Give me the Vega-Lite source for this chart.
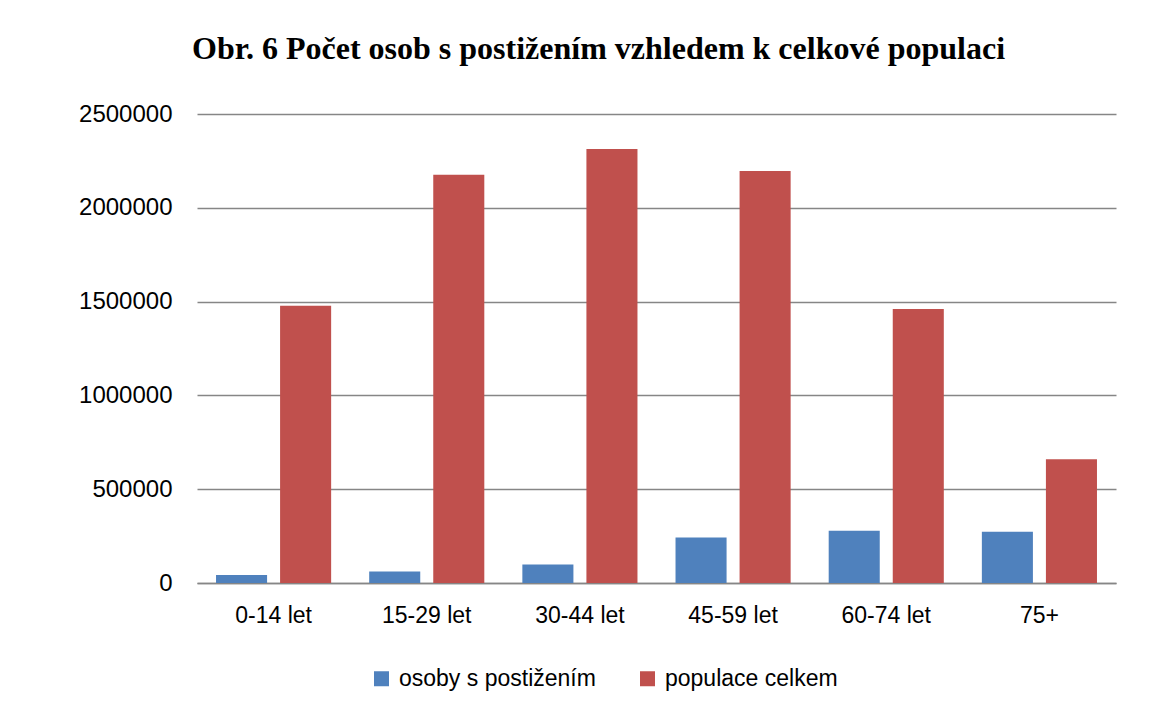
{
  "$schema": "https://vega.github.io/schema/vega-lite/v6.json",
  "autosize": {"type": "none"},
  "padding": {"left": 197, "top": 114, "right": 59, "bottom": 127},
  "width": 919,
  "height": 469,
  "background": "white",
  "title": {
    "text": "Obr. 6 Počet osob s postižením vzhledem k celkové populaci",
    "anchor": "start",
    "frame": "group",
    "dx": -5,
    "offset": 36,
    "font": "Liberation Serif",
    "fontSize": 32,
    "fontWeight": "bold",
    "color": "#000000"
  },
  "data": {
    "values": [
      {"vek": "0-14 let", "skupina": "osoby s postižením", "pocet": 43000},
      {"vek": "0-14 let", "skupina": "populace celkem", "pocet": 1478000},
      {"vek": "15-29 let", "skupina": "osoby s postižením", "pocet": 61000},
      {"vek": "15-29 let", "skupina": "populace celkem", "pocet": 2176000},
      {"vek": "30-44 let", "skupina": "osoby s postižením", "pocet": 98000},
      {"vek": "30-44 let", "skupina": "populace celkem", "pocet": 2313000},
      {"vek": "45-59 let", "skupina": "osoby s postižením", "pocet": 242000},
      {"vek": "45-59 let", "skupina": "populace celkem", "pocet": 2196000},
      {"vek": "60-74 let", "skupina": "osoby s postižením", "pocet": 279000},
      {"vek": "60-74 let", "skupina": "populace celkem", "pocet": 1461000},
      {"vek": "75+", "skupina": "osoby s postižením", "pocet": 273000},
      {"vek": "75+", "skupina": "populace celkem", "pocet": 660000}
    ]
  },
  "mark": {"type": "bar"},
  "encoding": {
    "x": {
      "field": "vek",
      "type": "nominal",
      "sort": null,
      "scale": {"paddingInner": 0, "paddingOuter": 0},
      "axis": {
        "title": null,
        "labelAngle": 0,
        "ticks": false,
        "domainColor": "#868686",
        "domainWidth": 1.5,
        "labelFont": "Liberation Sans",
        "labelFontSize": 23,
        "labelColor": "#000000",
        "labelPadding": 21,
        "labelBaseline": "top"
      }
    },
    "xOffset": {
      "field": "skupina",
      "type": "nominal",
      "scale": {"paddingInner": 0.203, "paddingOuter": 0.297}
    },
    "y": {
      "field": "pocet",
      "type": "quantitative",
      "scale": {"domain": [0, 2500000], "nice": false},
      "axis": {
        "title": null,
        "values": [0, 500000, 1000000, 1500000, 2000000, 2500000],
        "format": "d",
        "domain": false,
        "ticks": false,
        "grid": true,
        "gridColor": "#868686",
        "gridWidth": 1.5,
        "labelFont": "Liberation Sans",
        "labelFontSize": 24,
        "labelColor": "#000000",
        "labelPadding": 25
      }
    },
    "color": {
      "field": "skupina",
      "type": "nominal",
      "scale": {
        "domain": ["osoby s postižením", "populace celkem"],
        "range": ["#4F81BD", "#C0504D"]
      },
      "legend": {
        "title": null,
        "orient": "none",
        "direction": "horizontal",
        "legendX": 173,
        "legendY": 553,
        "symbolType": "square",
        "symbolSize": 225,
        "symbolStrokeWidth": 0,
        "symbolOpacity": 1,
        "labelFont": "Liberation Sans",
        "labelFontSize": 23,
        "labelColor": "#000000",
        "labelOffset": 6,
        "labelLimit": 400,
        "columnPadding": 40
      }
    }
  },
  "config": {
    "view": {"stroke": null}
  }
}
